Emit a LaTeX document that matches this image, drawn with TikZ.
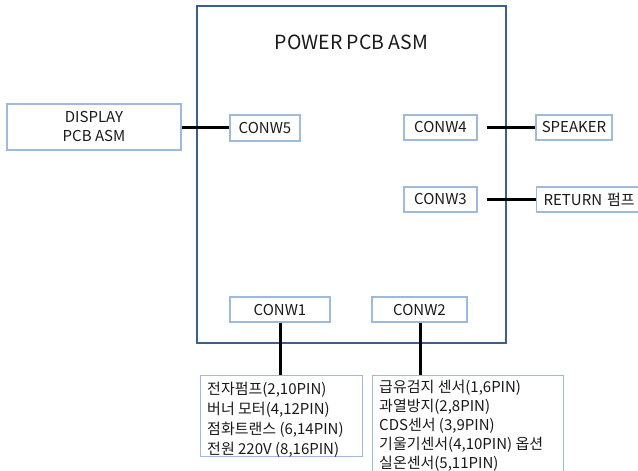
\documentclass[tikz,border=0pt]{standalone}
\usepackage{fontspec}
\setmainfont{Noto Sans CJK KR}
\definecolor{mainblue}{RGB}{58,96,140}
\definecolor{lightblue}{RGB}{157,185,222}
\definecolor{txt}{RGB}{25,25,25}
\begin{document}
\begin{tikzpicture}[x=1pt,y=-1pt,
  mainbox/.style={draw=mainblue, line width=2.5pt, inner sep=0pt},
  lbox/.style={draw=lightblue, line width=1.2pt, inner sep=0pt, text=txt,
    font=\fontsize{15}{18}\selectfont},
  listbox/.style={draw=lightblue, line width=1.2pt, inner sep=0pt, anchor=north west},
  listtext/.style={inner sep=0pt, text=txt, align=left, anchor=north west},
  conn/.style={line width=3pt, black},
]
\useasboundingbox (0,0) rectangle (638,471);
\node[mainbox, minimum width=309pt, minimum height=337pt] (power) at (351.5,174.5) {};
\node[text=txt, inner sep=0pt, font=\fontsize{19.5}{22}\selectfont] (title) at (351.5,42.5) {POWER PCB ASM};

\node[lbox, minimum width=174pt, minimum height=46pt, align=center,
  font=\fontsize{15}{19}\selectfont] (display) at (94,127) {DISPLAY\\PCB ASM};
\node[lbox, minimum width=70pt, minimum height=26pt] (conw5) at (265,128) {CONW5};
\node[lbox, minimum width=73pt, minimum height=25pt] (conw4) at (440.5,127.5) {CONW4};
\node[lbox, minimum width=76pt, minimum height=25pt] (speaker) at (574,127.5) {SPEAKER};
\node[lbox, minimum width=73pt, minimum height=25pt] (conw3) at (440.5,199.5) {CONW3};
\node[lbox, minimum width=116pt, minimum height=25pt, anchor=west, text width=102pt, inner xsep=7pt] (return) at (536,199.5) {RETURN 펌프};
\node[lbox, minimum width=100pt, minimum height=25pt] (conw1) at (280,309.5) {CONW1};
\node[lbox, minimum width=95pt, minimum height=25pt] (conw2) at (419.5,309.5) {CONW2};

\node[listbox, minimum width=162pt, minimum height=81pt] (left) at (200,375) {};
\node[listtext, font=\fontsize{15}{20}\selectfont] (lefttext) at (207,378)
  {\rule{0pt}{16pt}전자펌프(2,10PIN)\\버너 모터(4,12PIN)\\점화트랜스 (6,14PIN)\\전원 220V (8,16PIN)};
\node[listbox, minimum width=191pt, minimum height=108pt] (right) at (372,375) {};
\node[listtext, font=\fontsize{15}{19}\selectfont] (righttext) at (379,376.5)
  {\rule{0pt}{16pt}급유검지 센서(1,6PIN)\\과열방지(2,8PIN)\\CDS센서 (3,9PIN)\\기울기센서(4,10PIN) 옵션\\실온센서(5,11PIN)};

\draw[conn] (display.east) -- (display.east -| conw5.west);
\draw[conn] ([xshift=9pt]conw4.east) -- (speaker.west);
\draw[conn] ([xshift=9pt]conw3.east) -- (return.west);
\draw[conn] (conw1.south) -- (conw1.south |- left.north);
\draw[conn] ([xshift=0.5pt]conw2.south) -- ([xshift=0.5pt]conw2.south |- right.north);
\end{tikzpicture}
\end{document}
